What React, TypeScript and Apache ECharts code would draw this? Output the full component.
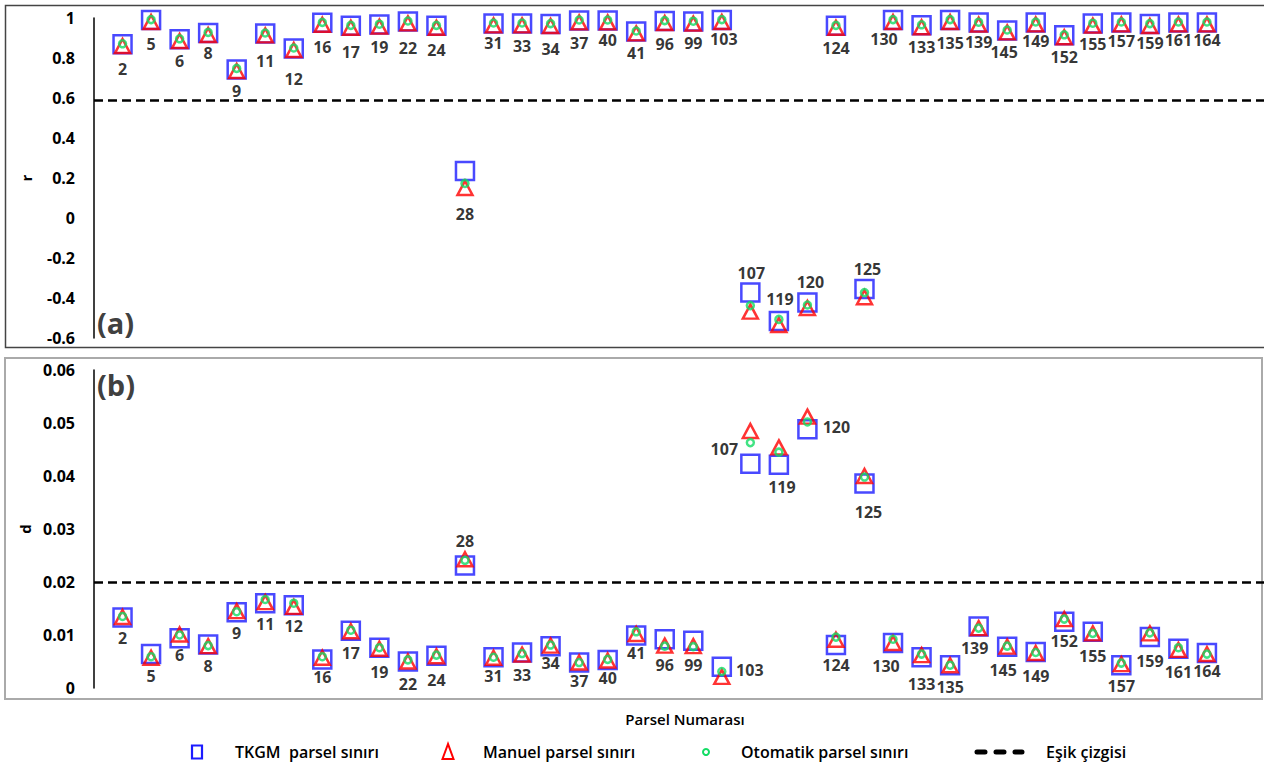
import React, { useEffect, useRef } from "react";
import * as echarts from "echarts";

// ---- Data ----
const parcels = [
  "2", "5", "6", "8", "9", "11", "12", "16", "17", "19", "22", "24", "28", "31", "33", "34", "37", "40", "41",
  "96", "99", "103", "107", "119", "120", "124", "125", "130", "133", "135", "139", "145", "149", "152", "155",
  "157", "159", "161", "164",
];

// r values (panel a)
const rTKGM = [
  0.869, 0.99, 0.894, 0.925, 0.742, 0.923, 0.848, 0.976, 0.961, 0.967, 0.983, 0.961, 0.235, 0.973, 0.973, 0.97,
  0.988, 0.988, 0.933, 0.985, 0.982, 0.99, -0.372, -0.515, -0.423, 0.961, -0.355, 0.99, 0.964, 0.99, 0.977, 0.938,
  0.978, 0.914, 0.972, 0.978, 0.97, 0.978, 0.978,
];
const rManuel = [
  0.86, 0.98, 0.885, 0.915, 0.735, 0.913, 0.84, 0.966, 0.951, 0.957, 0.973, 0.951, 0.15, 0.963, 0.963, 0.96,
  0.978, 0.978, 0.923, 0.975, 0.972, 0.98, -0.468, -0.535, -0.45, 0.951, -0.396, 0.98, 0.954, 0.98, 0.967, 0.928,
  0.968, 0.904, 0.962, 0.968, 0.96, 0.968, 0.968,
];
const rOtomatik = [
  0.871, 0.992, 0.896, 0.928, 0.748, 0.925, 0.85, 0.978, 0.963, 0.969, 0.985, 0.963, 0.173, 0.975, 0.975, 0.972,
  0.99, 0.99, 0.935, 0.987, 0.984, 0.992, -0.438, -0.507, -0.435, 0.963, -0.373, 0.992, 0.966, 0.992, 0.979, 0.94,
  0.98, 0.916, 0.974, 0.98, 0.972, 0.98, 0.98,
];

// d values (panel b)
const dTKGM = [
  0.0133, 0.0064, 0.0094, 0.0082, 0.0143, 0.016, 0.0156, 0.0054, 0.0108, 0.0076, 0.005, 0.0061, 0.0231, 0.0058,
  0.0067, 0.0079, 0.0048, 0.0053, 0.0099, 0.0092, 0.0089, 0.004, 0.0423, 0.0421, 0.0488, 0.0081, 0.0386, 0.0085,
  0.0058, 0.0043, 0.0116, 0.0078, 0.0068, 0.0125, 0.0106, 0.0043, 0.0096, 0.0074, 0.0066,
];
const dManuel = [
  0.0134, 0.0057, 0.0101, 0.0079, 0.0145, 0.0162, 0.0153, 0.0057, 0.0107, 0.0074, 0.005, 0.006, 0.0243, 0.0057,
  0.0063, 0.008, 0.0048, 0.0052, 0.0102, 0.008, 0.0079, 0.0021, 0.0485, 0.0454, 0.0512, 0.0091, 0.04, 0.0085,
  0.0062, 0.0043, 0.0113, 0.0078, 0.0066, 0.013, 0.0103, 0.0045, 0.0103, 0.0072, 0.0064,
];
const dOtomatik = [
  0.0135, 0.0059, 0.01, 0.008, 0.0144, 0.0167, 0.016, 0.0059, 0.0109, 0.0076, 0.0053, 0.0062, 0.0241, 0.0058,
  0.0065, 0.0081, 0.0048, 0.0054, 0.0106, 0.0079, 0.0078, 0.0031, 0.0463, 0.0445, 0.0502, 0.0096, 0.0398, 0.0092,
  0.0064, 0.0043, 0.0113, 0.0079, 0.0067, 0.013, 0.0103, 0.0047, 0.0104, 0.0076, 0.0064,
];

const rThreshold = 0.59;
const dThreshold = 0.02;

const legendNames = ["TKGM  parsel sınırı", "Manuel parsel sınırı", "Otomatik parsel sınırı", "Eşik çizgisi"];

// ---- Label placement (layout only) ----
const labelOffsetA: Record<string, [number, number]> = {
  "2": [0, 25], "5": [0, 24], "6": [0, 22], "8": [0, 20], "9": [0, 21], "11": [0, 28], "12": [0, 31],
  "16": [0, 24], "17": [0, 26], "19": [0, 22], "22": [0, 27], "24": [0, 24], "28": [0, 43], "31": [0, 20],
  "33": [0, 23], "34": [0, 25], "37": [0, 23], "40": [0, 20], "41": [0, 22], "96": [0, 23], "99": [0, 21],
  "103": [2, 19], "107": [1, -19], "119": [1, -22], "120": [3, -21], "124": [0, 22], "125": [3, -20],
  "130": [-9, 19], "133": [0, 22], "135": [0, 23], "139": [0, 19], "145": [-3, 22], "149": [0, 19],
  "152": [0, 22], "155": [0, 20], "157": [0, 19], "159": [0, 19], "161": [0, 18], "164": [0, 18],
};
const labelOffsetB: Record<string, [number, number]> = {
  "2": [0, 20], "5": [0, 22], "6": [0, 17], "8": [0, 21], "9": [0, 21], "11": [0, 21], "12": [0, 21],
  "16": [0, 18], "17": [0, 22], "19": [0, 24], "22": [0, 22], "24": [0, 24], "28": [0, -25], "31": [0, 19],
  "33": [0, 23], "34": [0, 17], "37": [0, 18], "40": [0, 18], "41": [0, 17], "96": [0, 26], "99": [0, 24],
  "103": [28, 3], "107": [-26, -15], "119": [3, 22], "120": [29, -2], "124": [0, 20], "125": [4, 29],
  "130": [-7, 23], "133": [0, 27], "135": [0, 22], "139": [-4, 21], "145": [-4, 23], "149": [0, 24],
  "152": [0, 19], "155": [0, 24], "157": [0, 21], "159": [0, 24], "161": [0, 23], "164": [0, 18],
};

const BLUE = "#1c1cff";
const RED = "#ff0000";
const GREEN = "#12dc64";
const FONT = "'Open Sans', 'Noto Sans', sans-serif";

function App() {
  const ref = useRef<HTMLDivElement>(null);

  useEffect(() => {
    if (!ref.current) return;
    const chart = echarts.init(ref.current, undefined, { renderer: "svg" });

    const labelCfg = {
      show: true,
      position: "inside",
      color: "#000",
      textBorderWidth: 0,
      fontFamily: FONT,
      fontWeight: 700,
      fontSize: 16,
      formatter: (p: any) => parcels[p.dataIndex],
    };

    const mkSeries = (
      idx: number,
      tk: number[],
      ma: number[],
      ot: number[],
      offsets: Record<string, [number, number]>,
      thr: number
    ) => [
      {
        type: "scatter",
        name: legendNames[0],
        xAxisIndex: idx,
        yAxisIndex: idx,
        symbol: "rect",
        symbolSize: 18,
        itemStyle: { color: "transparent", borderColor: BLUE, borderWidth: 2.5 },
        label: labelCfg,
        z: 2,
        data: parcels.map((p, i) => ({
          value: [i + 1, tk[i]],
          label: { offset: offsets[p] ?? [0, 22] },
        })),
        markLine: {
          silent: true,
          symbol: ["none", "none"],
          label: { show: false },
          lineStyle: { color: "#000", type: [9, 5], width: 2.5 },
          emphasis: { disabled: true },
          data: [{ yAxis: thr }],
        },
      },
      {
        type: "scatter",
        name: legendNames[1],
        xAxisIndex: idx,
        yAxisIndex: idx,
        symbol: "triangle",
        symbolSize: [15, 14],
        itemStyle: { color: "transparent", borderColor: RED, borderWidth: 2.5 },
        z: 3,
        data: parcels.map((p, i) => [i + 1, ma[i]]),
      },
      {
        type: "scatter",
        name: legendNames[2],
        xAxisIndex: idx,
        yAxisIndex: idx,
        symbol: "circle",
        symbolSize: 7,
        itemStyle: { color: "transparent", borderColor: GREEN, borderWidth: 2.5 },
        z: 4,
        data: parcels.map((p, i) => [i + 1, ot[i]]),
      },
    ];

    const yAxisBase = {
      type: "value",
      nameLocation: "middle",
      nameRotate: 90,
      nameGap: 61,
      nameTextStyle: { fontFamily: FONT, fontWeight: "bold", fontSize: 15, color: "#000" },
      axisLine: { show: true, lineStyle: { color: "#000", width: 1.5 } },
      axisTick: { show: false },
      splitLine: { show: false },
      axisLabel: { margin: 19, fontFamily: FONT, fontWeight: 700, fontSize: 16, color: "#000" },
    };

    const legendY = 752;
    const legendText = (x: number, t: string) => ({
      type: "text",
      x,
      y: legendY,
      style: { text: t, fontFamily: FONT, fontSize: 16, fontWeight: 600, fill: "#000", verticalAlign: "middle" },
    });

    chart.setOption({
      animation: false,
      grid: [
        { left: 94, top: 18, right: 0, height: 320 },
        { left: 94, top: 370, right: 0, height: 318 },
      ],
      xAxis: [
        { type: "value", gridIndex: 0, min: 0, max: 41, show: false },
        { type: "value", gridIndex: 1, min: 0, max: 41, show: false },
      ],
      yAxis: [
        { ...yAxisBase, gridIndex: 0, name: "r", min: -0.6, max: 1, interval: 0.2 },
        { ...yAxisBase, gridIndex: 1, name: "d", min: 0, max: 0.06, interval: 0.01 },
      ],
      series: [
        ...mkSeries(0, rTKGM, rManuel, rOtomatik, labelOffsetA, rThreshold),
        ...mkSeries(1, dTKGM, dManuel, dOtomatik, labelOffsetB, dThreshold),
      ],
      graphic: [
        {
          type: "rect",
          z: -10,
          shape: { x: 5.5, y: 5.5, width: 1270, height: 342 },
          style: { fill: "none", stroke: "#444", lineWidth: 1.5 },
        },
        {
          type: "rect",
          z: -10,
          shape: { x: 5, y: 358, width: 1257, height: 341 },
          style: { fill: "none", stroke: "#aaa", lineWidth: 2 },
        },
        {
          type: "text",
          x: 97,
          y: 322,
          style: { text: "(a)", fontFamily: FONT, fontSize: 29, fontWeight: "bold", fill: "#404040", verticalAlign: "middle" },
        },
        {
          type: "text",
          x: 97,
          y: 384,
          style: { text: "(b)", fontFamily: FONT, fontSize: 29, fontWeight: "bold", fill: "#404040", verticalAlign: "middle" },
        },
        {
          type: "text",
          x: 685,
          y: 719,
          style: {
            text: "Parsel Numarası",
            fontFamily: FONT,
            fontSize: 15,
            fontWeight: 600,
            fill: "#000",
            align: "center",
            verticalAlign: "middle",
          },
        },
        {
          type: "rect",
          shape: { x: 192, y: 745.5, width: 10, height: 13 },
          style: { fill: "none", stroke: BLUE, lineWidth: 2.2 },
        },
        legendText(235, legendNames[0]),
        {
          type: "polygon",
          shape: { points: [[448, 744], [442.5, 759], [453.5, 759]] },
          style: { fill: "none", stroke: RED, lineWidth: 2 },
        },
        legendText(483, legendNames[1]),
        {
          type: "circle",
          shape: { cx: 706, cy: 752, r: 3 },
          style: { fill: "none", stroke: GREEN, lineWidth: 2 },
        },
        legendText(741, legendNames[2]),
        {
          type: "line",
          shape: { x1: 977, y1: 752, x2: 1022, y2: 752 },
          style: { stroke: "#000", lineWidth: 5, lineDash: [8, 11], lineCap: "round" },
        },
        legendText(1046, legendNames[3]),
      ],
    });

    return () => chart.dispose();
  }, []);

  return (
    <div
      ref={ref}
      style={{ position: "absolute", left: 0, top: 0, width: 1264, height: 767, background: "#fff" }}
    />
  );
}

export default App;
